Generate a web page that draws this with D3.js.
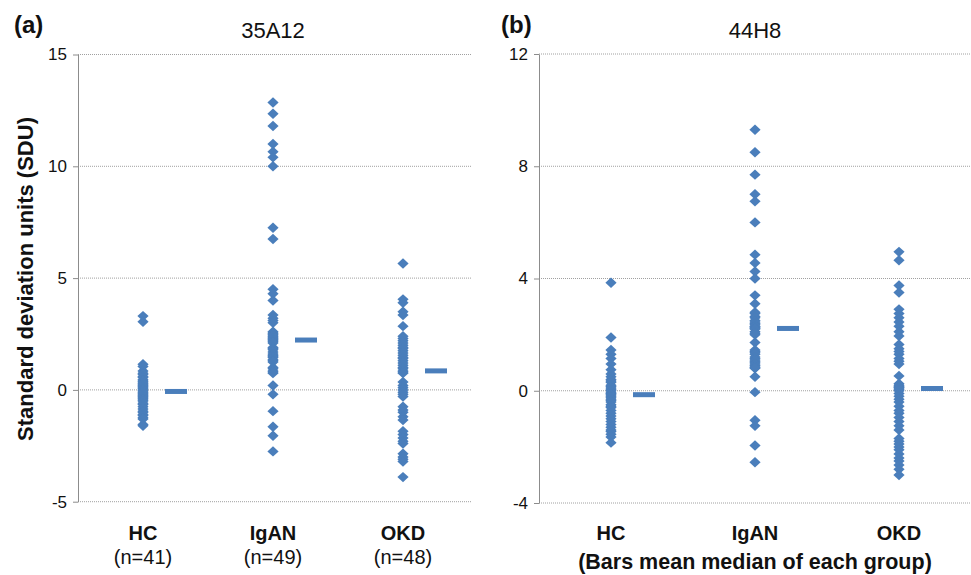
<!DOCTYPE html>
<html>
<head>
<meta charset="utf-8">
<script src="https://cdn.jsdelivr.net/npm/d3@7/dist/d3.min.js"></script>
<style>
  html, body { margin: 0; padding: 0; background: #fff; }
  svg { display: block; font-family: "Liberation Sans", Arial, Helvetica, sans-serif; }
</style>
</head>
<body>
<svg id="chart" width="971" height="575"></svg>
<script>
// ---------- data ----------
const categories = ["HC", "IgAN", "OKD"];
const nLabels = ["(n=41)", "(n=49)", "(n=48)"];

// Panel (a) 35A12
const aHC = [3.3, 3.05, 1.15, 1.05, 0.85, 0.75, 0.7, 0.6, 0.55, 0.45, 0.4, 0.35, 0.3, 0.25, 0.2, 0.15, 0.1, 0.05, 0.0, -0.05, -0.1, -0.15, -0.2, -0.25, -0.3, -0.35, -0.4, -0.45, -0.5, -0.6, -0.65, -0.75, -0.85, -0.95, -1.0, -1.1, -1.15, -1.25, -1.3, -1.55, -1.6];
const aIgAN = [12.85, 12.35, 11.8, 11.0, 10.65, 10.4, 10.0, 7.25, 6.75, 4.5, 4.3, 4.0,
  3.35, 3.2, 3.1, 3.0, 2.6, 2.55, 2.5, 2.45, 2.4, 2.35, 2.3, 2.25, 2.2, 2.15, 2.1, 1.9, 1.85, 1.8, 1.7, 1.6, 1.55, 1.5, 1.45, 1.35, 1.3, 1.25, 1.0, 0.95, 0.85, 0.8, 0.75,
  0.2, -0.2, -0.95, -1.65, -2.05, -2.75];
const aOKD = [5.65, 4.05, 3.9, 3.5, 3.35, 2.85,
  2.4, 2.3, 2.2, 2.1, 2.0, 1.9, 1.85, 1.75, 1.65, 1.55, 1.45, 1.4, 1.3, 1.2, 1.1, 1.0, 0.95, 0.85, 0.8, 0.75,
  0.35, 0.2, 0.1, 0.0, -0.1, -0.2, -0.3,
  -0.75, -0.9, -1.0, -1.2, -1.35,
  -1.85, -2.0, -2.15, -2.3, -2.4,
  -2.85, -3.0, -3.1, -3.2, -3.9];
const aMedians = [-0.07, 2.23, 0.85];
const aTicks = [-5, 0, 5, 10, 15];

// Panel (b) 44H8
const bHC = [3.85, 1.9, 1.45, 1.3, 1.15, 0.95, 0.75, 0.6, 0.5, 0.4, 0.35, 0.3, 0.2, 0.15, 0.1, 0.05, 0.0, -0.05, -0.1, -0.12, -0.15, -0.2, -0.25, -0.3, -0.35, -0.4, -0.5, -0.55, -0.6, -0.7, -0.8, -0.9, -1.0, -1.1, -1.2, -1.3, -1.4, -1.45, -1.55, -1.65, -1.85];
const bIgAN = [9.3, 8.5, 7.7, 7.0, 6.75, 6.0, 4.85, 4.55, 4.25, 4.0, 3.4, 3.1,
  2.8, 2.75, 2.65, 2.6, 2.5, 2.45, 2.4, 2.35, 2.3, 2.28, 2.25, 2.22, 2.2, 2.1, 2.05, 2.0, 1.72, 1.45, 1.4, 1.35, 1.3, 1.2, 1.15, 1.1, 1.05, 1.0, 0.95, 0.9, 0.85, 0.82, 0.8,
  0.5, -0.05, -1.05, -1.25, -1.95, -2.55];
const bOKD = [4.95, 4.65, 3.75, 3.5,
  2.9, 2.75, 2.6, 2.45, 2.3, 2.1, 1.95, 1.65, 1.5, 1.4, 1.3, 1.15, 1.05, 0.95,
  0.53,
  0.25, 0.2, 0.15, 0.12, 0.1, 0.05, 0.0, -0.1, -0.2, -0.3, -0.4, -0.55, -0.7, -0.8, -0.95, -1.1, -1.25, -1.4, -1.7, -1.8, -1.9, -2.0, -2.1, -2.25, -2.4, -2.5, -2.65, -2.8,
  -3.0];
const bMedians = [-0.14, 2.22, 0.08];
const bTicks = [-4, 0, 4, 8, 12];

// ---------- drawing ----------
const svg = d3.select("#chart");
const BLUE = "#4A7EBB";
const diamond = { draw(ctx, size) { const w = 5.6, h = 5.2; ctx.moveTo(0, -h); ctx.lineTo(w, 0); ctx.lineTo(0, h); ctx.lineTo(-w, 0); ctx.closePath(); } };

function panel(opts) {
  const { series, medians, ticks, x0, x1, gridEnd, yTop, yBot, label, title, showN } = opts;
  const y = d3.scaleLinear().domain([ticks[0], ticks[ticks.length - 1]]).range([yBot, yTop]);
  const x = d3.scaleBand().domain(categories).range([x0, x1]);
  const g = svg.append("g");

  // gridlines
  g.append("g").selectAll("line").data(ticks).join("line")
    .attr("x1", x0).attr("x2", gridEnd)
    .attr("y1", d => y(d)).attr("y2", d => y(d))
    .attr("stroke", "#a0a0a0").attr("stroke-width", 1)
    .attr("stroke-dasharray", "1,1");

  // y axis
  const ax = g.append("g").attr("transform", `translate(${x0},0)`)
    .call(d3.axisLeft(y).tickValues(ticks).tickSize(5).tickSizeOuter(0).tickPadding(6).tickFormat(d => String(d)));
  ax.select(".domain").attr("stroke", "#8c8c8c");
  ax.selectAll(".tick line").attr("stroke", "#8c8c8c");
  ax.selectAll(".tick text").attr("font-size", 17).attr("fill", "#111").attr("font-family", "Liberation Sans, Arial, sans-serif");

  // points
  categories.forEach((c, i) => {
    const cx = x(c) + x.bandwidth() / 2;
    g.append("g").selectAll("path").data(series[i]).join("path")
      .attr("d", d3.symbol().type(diamond)())
      .attr("transform", d => `translate(${cx},${y(d)})`)
      .attr("fill", BLUE);
    // median bar
    g.append("rect")
      .attr("x", cx + 22).attr("y", y(medians[i]) - 2.5)
      .attr("width", 22).attr("height", 5)
      .attr("fill", BLUE);
    // category labels
    g.append("text").attr("x", cx).attr("y", 540)
      .attr("text-anchor", "middle").attr("font-weight", "bold").attr("font-size", 20)
      .attr("fill", "#111").text(c);
    if (showN) {
      g.append("text").attr("x", cx).attr("y", 564)
        .attr("text-anchor", "middle").attr("font-size", 20)
        .attr("fill", "#111").text(nLabels[i]);
    }
  });

  // titles
  g.append("text").attr("x", label.x).attr("y", 33)
    .attr("font-weight", "bold").attr("font-size", 24).attr("fill", "#111").text(label.t);
  g.append("text").attr("x", x(categories[1]) + x.bandwidth() / 2).attr("y", 38)
    .attr("text-anchor", "middle").attr("font-size", 22).attr("fill", "#111").text(title);
  return { x, y };
}

panel({ series: [aHC, aIgAN, aOKD], medians: aMedians, ticks: aTicks,
  x0: 78, x1: 468, gridEnd: 472, yTop: 54.5, yBot: 501.7,
  label: { x: 14, t: "(a)" }, title: "35A12", showN: true });

const pb = panel({ series: [bHC, bIgAN, bOKD], medians: bMedians, ticks: bTicks,
  x0: 539, x1: 971, gridEnd: 971, yTop: 54, yBot: 503,
  label: { x: 501, t: "(b)" }, title: "44H8", showN: false });

svg.append("text").attr("x", pb.x("IgAN") + pb.x.bandwidth() / 2).attr("y", 569)
  .attr("text-anchor", "middle").attr("font-weight", "bold").attr("font-size", 21.5)
  .attr("fill", "#111").text("(Bars mean median of each group)");

svg.append("text")
  .attr("transform", "translate(33,279) rotate(-90)")
  .attr("text-anchor", "middle").attr("font-weight", "bold").attr("font-size", 22)
  .attr("fill", "#111").text("Standard deviation units (SDU)");
</script>
</body>
</html>
